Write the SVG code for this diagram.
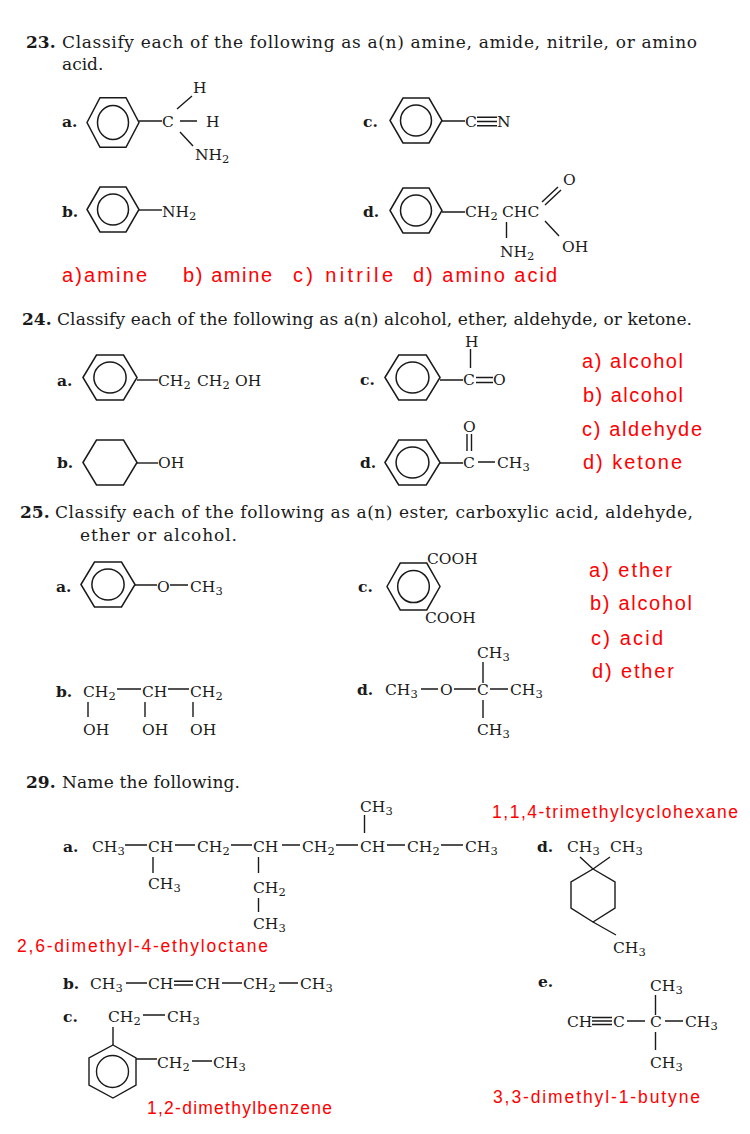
<svg xmlns="http://www.w3.org/2000/svg" xmlns:xlink="http://www.w3.org/1999/xlink" width="750" height="1134" viewBox="0 0 750 1134">
<style>
text { font-family: "DejaVu Serif", "Liberation Serif", serif; fill: #1a1a1a; }
.h { font-size: 17px; }
.n { font-size: 17px; font-weight: bold; }
.c { font-size: 15.5px; }
.l { font-size: 15.5px; font-weight: bold; }
.s { font-size: 11.5px; }
.r { font-family: "Liberation Sans", Arial, sans-serif; fill: #ff0000; font-size: 20px; }
.r2 { font-family: "Liberation Sans", Arial, sans-serif; fill: #ff0000; font-size: 17.5px; }
.bd { stroke: #1a1a1a; stroke-width: 1.4; fill: none; }
.rg { stroke: #1a1a1a; stroke-width: 1.5; fill: none; vector-effect: non-scaling-stroke; }
</style>
<defs>
<g id="bz"><polygon class="rg" points="-26,0 -13,-22.5 13,-22.5 26,0 13,22.5 -13,22.5"/><circle class="rg" r="15.5"/></g>
<g id="hx"><polygon class="rg" points="-26,0 -13,-22.5 13,-22.5 26,0 13,22.5 -13,22.5"/></g>
</defs>
<rect width="750" height="1134" fill="#ffffff"/>

<g id="q23">
<text class="n" x="26" y="48">23.</text>
<text class="h" x="62" y="48" textLength="635">Classify each of the following as a(n) amine, amide, nitrile, or amino</text>
<text class="h" x="62" y="70">acid.</text>
</g>
<g id="m23a">
<text class="l" x="62" y="127">a.</text>
<use href="#bz" transform="translate(113,122.5) scale(1,1.1)"/>
<path class="bd" d="M139 121H162 M180 121H197 M177 109L192 96 M180 132L193 146"/>
<text class="c" x="162" y="127">C</text>
<text class="c" x="206" y="127">H</text>
<text class="c" x="193" y="93">H</text>
<text class="c" x="195" y="160">NH<tspan class="s" dy="3">2</tspan></text>
</g>
<g id="m23b">
<text class="l" x="62" y="217">b.</text>
<use href="#bz" transform="translate(113,209.5)"/>
<path class="bd" d="M139 210H162"/>
<text class="c" x="162" y="217">NH<tspan class="s" dy="3">2</tspan></text>
</g>
<g id="m23c">
<text class="l" x="363" y="127">c.</text>
<use href="#bz" transform="translate(416,120.5)"/>
<path class="bd" d="M442 121H465 M477 117.3H497 M477 121.5H497 M477 125.7H497"/>
<text class="c" x="465" y="127">C</text>
<text class="c" x="497" y="127">N</text>
</g>
<g id="m23d">
<text class="l" x="363" y="217">d.</text>
<use href="#bz" transform="translate(416,210.5)"/>
<path class="bd" d="M442 212H465 M542 202L558 187 M545 205L561 190 M545 221L559 236 M506.5 222V238"/>
<text class="c" x="465" y="217">CH<tspan class="s" dy="3">2</tspan></text>
<text class="c" x="502" y="217">CHC</text>
<text class="c" x="563" y="185">O</text>
<text class="c" x="562" y="252">OH</text>
<text class="c" x="500" y="257">NH<tspan class="s" dy="3">2</tspan></text>
</g>
<g id="a23">
<text class="r" x="62" y="282" textLength="85">a)amine</text>
<text class="r" x="183" y="282" textLength="89">b) amine</text>
<text class="r" x="293" y="282" textLength="100">c) nitrile</text>
<text class="r" x="413" y="282" textLength="144">d) amino acid</text>
</g>

<g id="q24">
<text class="n" x="22" y="325">24.</text>
<text class="h" x="57" y="325" textLength="635">Classify each of the following as a(n) alcohol, ether, aldehyde, or ketone.</text>
</g>
<g id="m24a">
<text class="l" x="57" y="386">a.</text>
<use href="#bz" transform="translate(110,377.5) scale(1.04,1)"/>
<path class="bd" d="M137 380H158"/>
<text class="c" x="158" y="386">CH<tspan class="s" dy="3">2</tspan></text>
<text class="c" x="197" y="386">CH<tspan class="s" dy="3">2</tspan></text>
<text class="c" x="235" y="386">OH</text>
</g>
<g id="m24b">
<text class="l" x="57" y="468">b.</text>
<use href="#hx" transform="translate(110,462.5) scale(1.04,1)"/>
<path class="bd" d="M137 463H158"/>
<text class="c" x="158" y="468">OH</text>
</g>
<g id="m24c">
<text class="l" x="360" y="385">c.</text>
<use href="#bz" transform="translate(412.5,377.5) scale(1.06,1)"/>
<path class="bd" d="M440 380H463 M476 377.5H493 M476 382.5H493 M470.5 349V368"/>
<text class="c" x="463" y="385">C</text>
<text class="c" x="493" y="385">O</text>
<text class="c" x="465" y="347">H</text>
</g>
<g id="m24d">
<text class="l" x="360" y="468">d.</text>
<use href="#bz" transform="translate(412.5,462.5) scale(1.06,1)"/>
<path class="bd" d="M440 463H463 M478 462H495 M467 434V451 M471.5 434V451"/>
<text class="c" x="463" y="468">C</text>
<text class="c" x="497" y="468">CH<tspan class="s" dy="3">3</tspan></text>
<text class="c" x="463" y="432">O</text>
</g>
<g id="a24">
<text class="r" x="582" y="368" textLength="101">a) alcohol</text>
<text class="r" x="583" y="402" textLength="100">b) alcohol</text>
<text class="r" x="582" y="436" textLength="120">c) aldehyde</text>
<text class="r" x="583" y="469" textLength="99">d) ketone</text>
</g>

<g id="q25">
<text class="n" x="20" y="518">25.</text>
<text class="h" x="55" y="518" textLength="638">Classify each of the following as a(n) ester, carboxylic acid, aldehyde,</text>
<text class="h" x="80" y="541" textLength="157">ether or alcohol.</text>
</g>
<g id="m25a">
<text class="l" x="56" y="592">a.</text>
<use href="#bz" transform="translate(108,584.5) scale(1.04,1)"/>
<path class="bd" d="M135 585H157 M170 585H188"/>
<text class="c" x="157" y="592">O</text>
<text class="c" x="190" y="592">CH<tspan class="s" dy="3">3</tspan></text>
</g>
<g id="m25b">
<text class="l" x="56" y="697">b.</text>
<path class="bd" d="M117 689H141 M168 689H189 M88 702V717 M145 702V717 M193 702V717"/>
<text class="c" x="83" y="697">CH<tspan class="s" dy="3">2</tspan></text>
<text class="c" x="142" y="697">CH</text>
<text class="c" x="190" y="697">CH<tspan class="s" dy="3">2</tspan></text>
<text class="c" x="83" y="735">OH</text>
<text class="c" x="142" y="735">OH</text>
<text class="c" x="190" y="735">OH</text>
</g>
<g id="m25c">
<text class="l" x="358" y="592">c.</text>
<use href="#bz" transform="translate(413.5,586.5) scale(1.02,1.04)"/>
<text class="c" x="427" y="564">COOH</text>
<text class="c" x="425" y="623">COOH</text>
</g>
<g id="m25d">
<text class="l" x="357" y="695">d.</text>
<path class="bd" d="M421 689H438 M454 689H476 M490 689H508 M483 662V683 M483 700V718"/>
<text class="c" x="385" y="695">CH<tspan class="s" dy="3">3</tspan></text>
<text class="c" x="440" y="695">O</text>
<text class="c" x="477" y="695">C</text>
<text class="c" x="510" y="695">CH<tspan class="s" dy="3">3</tspan></text>
<text class="c" x="477" y="658">CH<tspan class="s" dy="3">3</tspan></text>
<text class="c" x="477" y="735">CH<tspan class="s" dy="3">3</tspan></text>
</g>
<g id="a25">
<text class="r" x="589" y="577" textLength="83">a) ether</text>
<text class="r" x="590" y="610" textLength="102">b) alcohol</text>
<text class="r" x="591" y="645" textLength="72">c) acid</text>
<text class="r" x="592" y="678" textLength="82">d) ether</text>
</g>

<g id="q29">
<text class="n" x="26" y="788">29.</text>
<text class="h" x="62" y="788" textLength="178">Name the following.</text>
</g>
<g id="m29a">
<text class="l" x="63" y="852">a.</text>
<path class="bd" d="M125 845H147 M175 845H195 M231 845H252 M282 845H300 M336 845H358 M387 845H405 M441 845H463 M153 857V873 M258.5 857V873 M258.5 898V912 M364.5 815V833"/>
<text class="c" x="92" y="852">CH<tspan class="s" dy="3">3</tspan></text>
<text class="c" x="148" y="852">CH</text>
<text class="c" x="197" y="852">CH<tspan class="s" dy="3">2</tspan></text>
<text class="c" x="253" y="852">CH</text>
<text class="c" x="302" y="852">CH<tspan class="s" dy="3">2</tspan></text>
<text class="c" x="360" y="852">CH</text>
<text class="c" x="407" y="852">CH<tspan class="s" dy="3">2</tspan></text>
<text class="c" x="465" y="852">CH<tspan class="s" dy="3">3</tspan></text>
<text class="c" x="148" y="889">CH<tspan class="s" dy="3">3</tspan></text>
<text class="c" x="253" y="893">CH<tspan class="s" dy="3">2</tspan></text>
<text class="c" x="253" y="929">CH<tspan class="s" dy="3">3</tspan></text>
<text class="c" x="360" y="812">CH<tspan class="s" dy="3">3</tspan></text>
</g>
<g id="m29d">
<text class="l" x="537" y="852">d.</text>
<polygon class="bd" points="593,869 615,882 615,908 593,922 571,908 571,882"/>
<path class="bd" d="M593 869L580 857 M593 869L610 857 M593 922L616 935"/>
<text class="c" x="567" y="852">CH<tspan class="s" dy="3">3</tspan></text>
<text class="c" x="610" y="852">CH<tspan class="s" dy="3">3</tspan></text>
<text class="c" x="613" y="953">CH<tspan class="s" dy="3">3</tspan></text>
</g>
<g id="m29b">
<text class="l" x="63" y="989">b.</text>
<path class="bd" d="M126 983H147 M174 981.3H193 M174 985H193 M222 983H242 M279 983H298"/>
<text class="c" x="90" y="989">CH<tspan class="s" dy="3">3</tspan></text>
<text class="c" x="148" y="989">CH</text>
<text class="c" x="195" y="989">CH</text>
<text class="c" x="243" y="989">CH<tspan class="s" dy="3">2</tspan></text>
<text class="c" x="300" y="989">CH<tspan class="s" dy="3">3</tspan></text>
</g>
<g id="m29c">
<text class="l" x="63" y="1022">c.</text>
<polygon class="bd" points="113,1045 136,1058 136,1085 113,1098 89,1085 89,1058"/>
<circle class="bd" cx="112.5" cy="1071.5" r="16"/>
<path class="bd" d="M143 1015H165 M113 1027V1045 M136 1059H157 M192 1061H212"/>
<text class="c" x="108" y="1022">CH<tspan class="s" dy="3">2</tspan></text>
<text class="c" x="167" y="1022">CH<tspan class="s" dy="3">3</tspan></text>
<text class="c" x="157" y="1068">CH<tspan class="s" dy="3">2</tspan></text>
<text class="c" x="213" y="1068">CH<tspan class="s" dy="3">3</tspan></text>
</g>
<g id="m29e">
<text class="l" x="538" y="987">e.</text>
<path class="bd" d="M592 1017.5H612 M592 1021H612 M592 1024.5H612 M627 1021H645 M665 1021H683 M655.5 995V1015 M655.5 1032V1050"/>
<text class="c" x="650" y="991">CH<tspan class="s" dy="3">3</tspan></text>
<text class="c" x="567" y="1027">CH</text>
<text class="c" x="613" y="1027">C</text>
<text class="c" x="650" y="1027">C</text>
<text class="c" x="685" y="1027">CH<tspan class="s" dy="3">3</tspan></text>
<text class="c" x="650" y="1068">CH<tspan class="s" dy="3">3</tspan></text>
</g>
<g id="a29">
<text class="r2" x="492" y="818" textLength="246">1,1,4-trimethylcyclohexane</text>
<text class="r2" x="17" y="952" textLength="251">2,6-dimethyl-4-ethyloctane</text>
<text class="r2" x="147" y="1114" textLength="185">1,2-dimethylbenzene</text>
<text class="r2" x="493" y="1103" textLength="207">3,3-dimethyl-1-butyne</text>
</g>
</svg>
